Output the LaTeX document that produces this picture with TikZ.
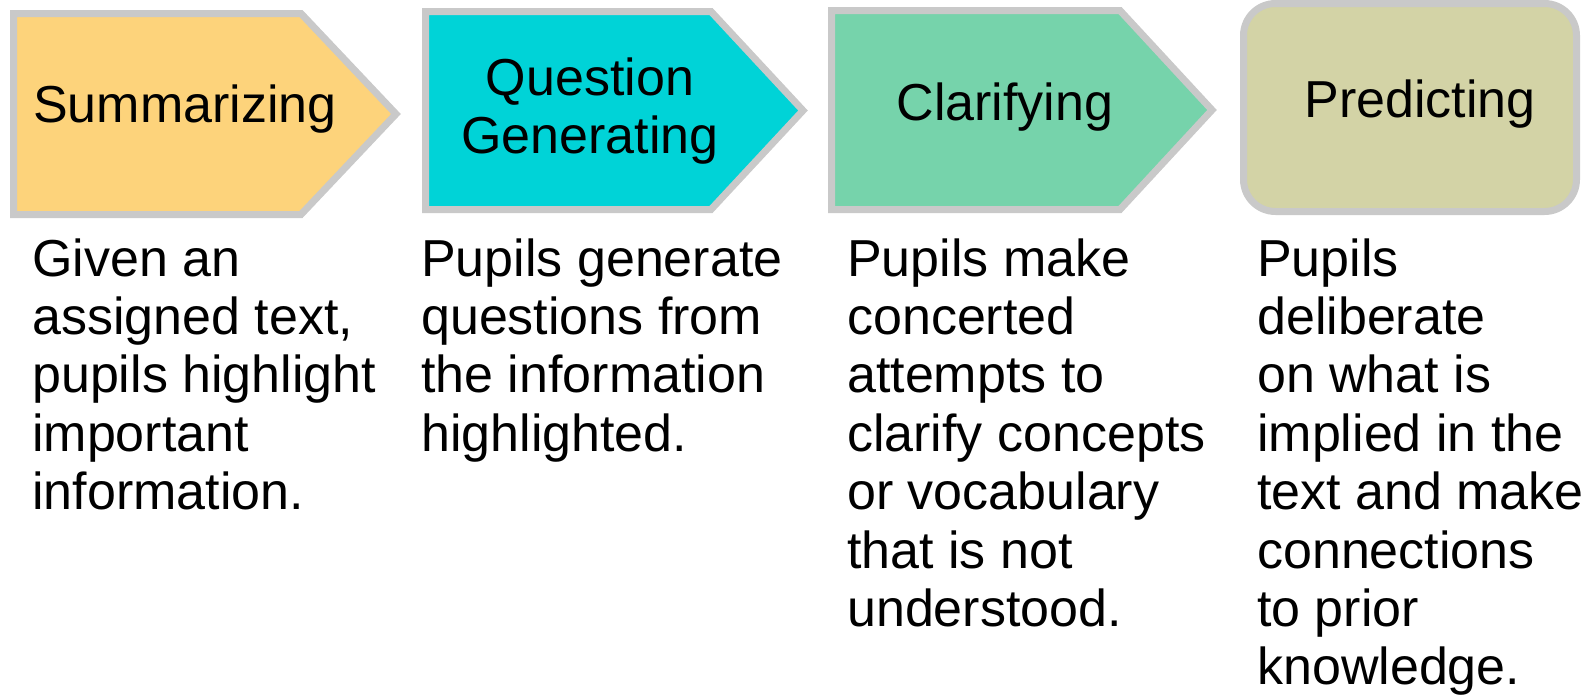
\documentclass[tikz,border=0pt]{standalone}
\usepackage{fontspec}
\setmainfont{Liberation Sans}
\definecolor{sumfill}{HTML}{FDD37B}
\definecolor{qgfill}{HTML}{00D3D7}
\definecolor{clfill}{HTML}{76D3AB}
\definecolor{prfill}{HTML}{D3D3A6}
\definecolor{edgegray}{HTML}{C9C9C9}
\tikzset{
  stepshape/.style={draw=edgegray, line width=7pt, line join=miter},
  title/.style={inner sep=0pt, anchor=base, font=\fontsize{52}{58}\selectfont},
  body/.style={inner sep=0pt, anchor=base west, font=\fontsize{52}{58.4}\selectfont},
}
\begin{document}
\begin{tikzpicture}[x=1pt,y=-1pt]
\useasboundingbox (0,0) rectangle (1591,699);
% shapes
\draw[stepshape, fill=sumfill] (13.5,13.5) -- (301,13.5) -- (396,114) -- (301,214.5) -- (13.5,214.5) -- cycle;
\draw[stepshape, fill=qgfill] (425.5,11.5) -- (711,11.5) -- (803,110.5) -- (711,209.5) -- (425.5,209.5) -- cycle;
\draw[stepshape, fill=clfill] (831.5,10.5) -- (1120,10.5) -- (1212,110) -- (1120,209.5) -- (831.5,209.5) -- cycle;
\draw[stepshape, fill=prfill, rounded corners=32pt] (1243.5,3.5) rectangle (1576.5,211.5);
% titles
\node[title, anchor=base west] (tsum) at (33,122) {Summarizing};
\node[title] (tqg) at (590,95) {\begin{tabular}[t]{@{}c@{}}Question\\Generating\end{tabular}};
\node[title] (tcl) at (1005,120) {Clarifying};
\node[title] (tpr) at (1420,117) {Predicting};
% descriptions
\node[body] (dsum) at (32,276) {\begin{tabular}[t]{@{}l@{}}Given an\\assigned text,\\pupils highlight\\important\\information.\end{tabular}};
\node[body] (dqg) at (421,276) {\begin{tabular}[t]{@{}l@{}}Pupils generate\\questions from\\the information\\highlighted.\end{tabular}};
\node[body] (dcl) at (847,276) {\begin{tabular}[t]{@{}l@{}}Pupils make\\concerted\\attempts to\\clarify concepts\\or vocabulary\\that is not\\understood.\end{tabular}};
\node[body] (dpr) at (1257,276) {\begin{tabular}[t]{@{}l@{}}Pupils\\deliberate\\on what is\\implied in the\\text and make\\connections\\to prior\\knowledge.\end{tabular}};
\end{tikzpicture}
\end{document}
